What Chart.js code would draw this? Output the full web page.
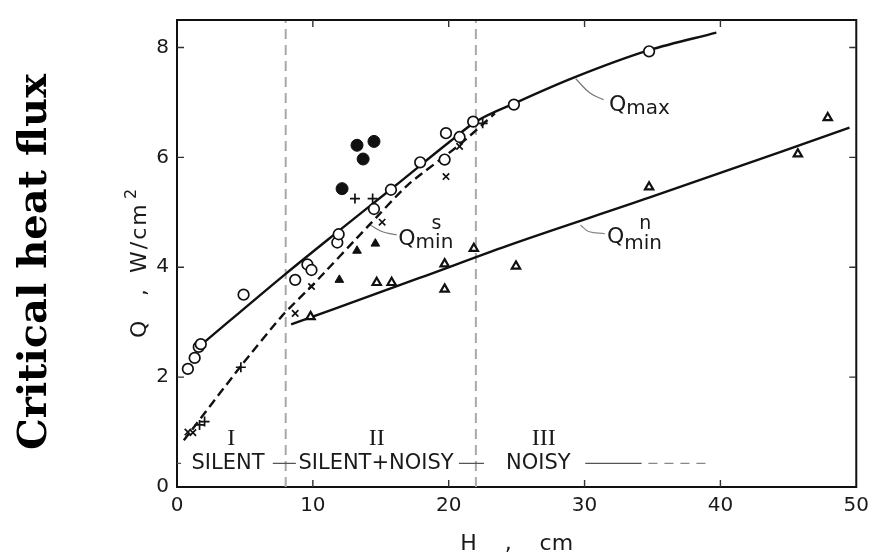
<!DOCTYPE html>
<html><head><meta charset="utf-8">
<script src="https://cdn.jsdelivr.net/npm/chart.js@4/dist/chart.umd.min.js"></script>
<style>html,body{margin:0;padding:0;background:#fff}#wrap{width:876px;height:559px}</style>
</head><body><div id="wrap"><canvas id="c" width="876" height="559"></canvas></div>
<script>
// ---- axis ticks ----
const xTicks = [0, 10, 20, 30, 40, 50];
const yTicks = [0, 2, 4, 6, 8];

// ---- measured points (H in cm, Q in W/cm^2) ----
const openCircleH = [0.8, 1.3, 1.6, 1.75, 4.9, 8.7, 9.6, 9.9, 11.8, 11.9, 14.5, 15.75, 17.9, 19.8, 19.7, 20.8, 21.8, 24.8, 34.75];
const openCircleQ = [2.15, 2.35, 2.55, 2.6, 3.5, 3.77, 4.05, 3.95, 4.45, 4.6, 5.06, 5.41, 5.91, 6.44, 5.96, 6.37, 6.65, 6.96, 7.93];
const filledCircleH = [12.15, 13.25, 13.7, 14.5];
const filledCircleQ = [5.43, 6.22, 5.97, 6.29];
const plusH = [1.66, 2.03, 4.7, 13.1, 14.4, 22.5];
const plusQ = [1.13, 1.19, 2.18, 5.25, 5.25, 6.62];
const crossH = [0.8, 1.17, 8.7, 9.9, 15.1, 19.8, 20.8];
const crossQ = [1.0, 0.99, 3.16, 3.65, 4.82, 5.65, 6.2];
const filledTriH = [11.95, 13.25, 14.6];
const filledTriQ = [3.77, 4.3, 4.43];
const openTriH = [9.83, 14.7, 15.8, 19.7, 19.7, 21.85, 24.95, 34.75, 45.7, 47.9];
const openTriQ = [3.1, 3.72, 3.72, 4.06, 3.6, 4.34, 4.02, 5.46, 6.06, 6.72];

// ---- fitted curves ----
const qmaxH = [1.7, 8, 12, 16, 20, 22, 25, 29.2, 34.75, 39.7];
const qmaxQ = [2.57, 3.88, 4.68, 5.47, 6.27, 6.65, 7.0, 7.45, 7.95, 8.27];
const qminSH = [0.5, 4.7, 7.75, 10, 14, 17, 20.8, 23.4];
const qminSQ = [0.85, 2.2, 3.12, 3.68, 4.73, 5.5, 6.23, 6.8];
const qminNH = [8.4, 17.8, 24.3, 34.8, 49.5];
const qminNQ = [2.96, 3.8, 4.39, 5.27, 6.54];

// ---- regime boundaries ----
const boundaryH = [8, 22];
const boundaryQ = [0, 8.5];

// ---- regime legend row ----
const rowQ = 0.43;
const rowSolidH = [[0, 0.3], [7.05, 8.75], [20.75, 22.6], [30.05, 34.2]];
const rowDashH = [34.7, 38.9];
const zoneText = ['SILENT', 'SILENT+NOISY', 'NOISY'];
const zoneH = [3.75, 14.65, 26.6];
const regionText = ['I', 'II', 'III'];
const regionH = [4.0, 14.7, 27.0];
const regionQ = 0.87;

// ---- curve labels and leaders ----
const qmaxLeaderH = [29.35, 30.4, 31.4];
const qmaxLeaderQ = [7.43, 7.17, 7.05];
const qminNLeaderH = [29.7, 30.3, 31.5];
const qminNLeaderQ = [4.77, 4.65, 4.61];
const qminSLeaderH = [14.22, 15.07, 16.17];
const qminSLeaderQ = [4.77, 4.65, 4.59];
const curveLabelSub = ['max', 'min', 'min'];
const curveLabelSup = ['', 'n', 's'];
const curveLabelH = [31.8, 31.65, 16.29];
const curveLabelQ = [6.85, 4.45, 4.41];

const pts = (xs, ys) => xs.map((x, i) => ({x, y: ys[i]}));
const INK = '#111';

const markerBase = {showLine: false, borderColor: INK};
const lineBase = {showLine: true, pointRadius: 0, borderColor: INK, borderWidth: 2.4, fill: false};

const datasets = [
  {...markerBase, data: pts(openCircleH, openCircleQ), pointStyle: 'circle', pointRadius: 5.3, borderWidth: 1.7, backgroundColor: '#fff'},
  {...markerBase, data: pts(filledCircleH, filledCircleQ), pointStyle: 'circle', pointRadius: 6, borderWidth: 1, backgroundColor: INK},
  {...markerBase, data: pts(plusH, plusQ), pointStyle: 'cross', pointRadius: 5, borderWidth: 1.7, backgroundColor: INK},
  {...markerBase, data: pts(crossH, crossQ), pointStyle: 'crossRot', pointRadius: 4.5, borderWidth: 1.7, backgroundColor: INK},
  {...markerBase, data: pts(filledTriH, filledTriQ), pointStyle: 'triangle', pointRadius: 5, borderWidth: 1, backgroundColor: INK},
  {...markerBase, data: pts(openTriH, openTriQ), pointStyle: 'triangle', pointRadius: 4.8, borderWidth: 2.2, backgroundColor: '#fff'},
  {...lineBase, data: pts(qmaxH, qmaxQ), cubicInterpolationMode: 'monotone'},
  {...lineBase, data: pts(qminSH, qminSQ), tension: 0.2, borderDash: [9, 5], borderWidth: 2.4},
  {...lineBase, data: pts(qminNH, qminNQ), cubicInterpolationMode: 'monotone'},
  {...lineBase, data: pts(qmaxLeaderH, qmaxLeaderQ), borderColor: '#777', borderWidth: 1.2, tension: 0.4},
  {...lineBase, data: pts(qminNLeaderH, qminNLeaderQ), borderColor: '#888', borderWidth: 1.2, tension: 0.4},
  {...lineBase, data: pts(qminSLeaderH, qminSLeaderQ), borderColor: '#777', borderWidth: 1.2, tension: 0.4},
];
rowSolidH.forEach(seg => datasets.push({...lineBase, data: pts(seg, [rowQ, rowQ]), borderColor: '#555', borderWidth: 1.4}));
datasets.push({...lineBase, data: pts(rowDashH, [rowQ, rowQ]), borderColor: '#888', borderWidth: 1.4, borderDash: [9, 7]});
boundaryH.forEach(h => datasets.push({...lineBase, data: pts([h, h], boundaryQ), borderColor: '#a8a8a8', borderWidth: 2, borderDash: [10, 6]}));

const overlay = {
  id: 'overlay',
  afterDraw(chart) {
    const {ctx, chartArea: a, scales: {x, y}} = chart;
    ctx.save();
    // frame top/right
    ctx.strokeStyle = INK; ctx.lineWidth = 2;
    ctx.beginPath(); ctx.moveTo(a.left - 1, a.top); ctx.lineTo(a.right, a.top); ctx.lineTo(a.right, a.bottom + 1); ctx.stroke();
    // inward ticks
    ctx.lineWidth = 1.4; ctx.strokeStyle = '#333';
    xTicks.slice(1, -1).forEach(v => {
      const px = x.getPixelForValue(v);
      ctx.beginPath();
      ctx.moveTo(px, a.bottom); ctx.lineTo(px, a.bottom - 7);
      ctx.moveTo(px, a.top); ctx.lineTo(px, a.top + 7);
      ctx.stroke();
    });
    yTicks.slice(1).forEach(v => {
      const py = y.getPixelForValue(v);
      ctx.beginPath();
      ctx.moveTo(a.left, py); ctx.lineTo(a.left + 7, py);
      ctx.moveTo(a.right, py); ctx.lineTo(a.right - 7, py);
      ctx.stroke();
    });
    // regime text
    ctx.fillStyle = '#1a1a1a';
    ctx.textAlign = 'center'; ctx.textBaseline = 'middle';
    ctx.font = '21px "DejaVu Sans"';
    zoneText.forEach((t, i) => ctx.fillText(t, x.getPixelForValue(zoneH[i]), y.getPixelForValue(rowQ)));
    ctx.font = '24px "Liberation Serif"';
    regionText.forEach((t, i) => ctx.fillText(t, x.getPixelForValue(regionH[i]), y.getPixelForValue(regionQ)));
    // curve labels
    ctx.textAlign = 'left'; ctx.textBaseline = 'alphabetic';
    const subShift = [3, 6.5, 3];
    const supShift = [0, -13.5, -16];
    curveLabelSub.forEach((sub, i) => {
      const px = x.getPixelForValue(curveLabelH[i]);
      const py = y.getPixelForValue(curveLabelQ[i]);
      ctx.font = '22px "DejaVu Sans"';
      ctx.fillText('Q', px, py);
      const qw = ctx.measureText('Q').width;
      ctx.font = '20px "DejaVu Sans"';
      ctx.fillText(sub, px + qw, py + subShift[i]);
      const sw = ctx.measureText(sub).width;
      if (curveLabelSup[i]) {
        ctx.font = '19px "DejaVu Sans"';
        ctx.textAlign = 'center';
        ctx.fillText(curveLabelSup[i], px + qw + sw / 2 + 2, py + supShift[i]);
        ctx.textAlign = 'left';
      }
    });
    // y-axis labels (rotated)
    ctx.save();
    ctx.translate(46, 262); ctx.rotate(-Math.PI / 2);
    ctx.fillStyle = '#000'; ctx.textAlign = 'center'; ctx.textBaseline = 'alphabetic';
    ctx.font = 'bold 40px "DejaVu Serif"';
    ctx.fillText('Critical heat flux', 0, 0);
    ctx.restore();
    ctx.save();
    ctx.translate(146, 0); ctx.rotate(-Math.PI / 2);
    ctx.fillStyle = '#1a1a1a'; ctx.textAlign = 'left'; ctx.textBaseline = 'alphabetic';
    ctx.font = '22px "DejaVu Sans"';
    ctx.fillText('Q', -338, 0);
    ctx.fillText(',', -296, 0);
    if ('letterSpacing' in ctx) ctx.letterSpacing = '2px';
    ctx.fillText('W/cm', -273, 0);
    if ('letterSpacing' in ctx) ctx.letterSpacing = '0px';
    ctx.font = '16px "DejaVu Sans"';
    ctx.fillText('2', -199, -10);
    ctx.restore();
    ctx.restore();
  }
};

new Chart(document.getElementById('c'), {
  type: 'scatter',
  data: {datasets},
  options: {
    responsive: false, animation: false, devicePixelRatio: 1,
    layout: {padding: {left: 0, right: 16, top: 9, bottom: 0}},
    plugins: {legend: {display: false}, tooltip: {enabled: false}},
    scales: {
      x: {
        type: 'linear', min: 0, max: 50,
        ticks: {stepSize: 10, padding: 7, color: '#1a1a1a', font: {family: 'DejaVu Sans', size: 20}, maxRotation: 0},
        grid: {display: false, drawTicks: false},
        border: {display: true, color: INK, width: 2},
        title: {display: true, text: 'H    ,    cm', color: '#1a1a1a', font: {family: 'DejaVu Sans', size: 22}, padding: {top: 10, bottom: 2}},
        afterFit: s => { s.height = 72; }
      },
      y: {
        type: 'linear', min: 0, max: 8.5,
        ticks: {stepSize: 2, includeBounds: false, padding: 8, color: '#1a1a1a', font: {family: 'DejaVu Sans', size: 20}},
        grid: {display: false, drawTicks: false},
        border: {display: true, color: INK, width: 2},
        afterFit: s => { s.width = 177; }
      }
    }
  },
  plugins: [overlay]
});
</script></body></html>
